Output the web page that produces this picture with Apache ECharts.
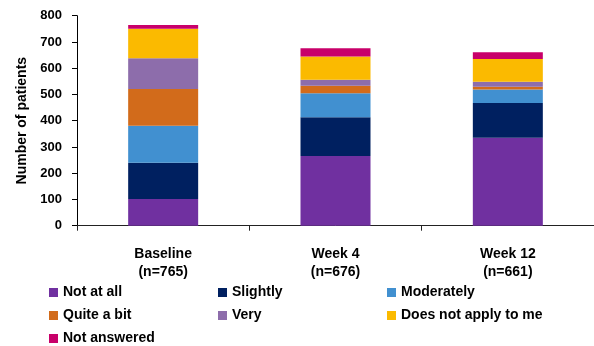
<!DOCTYPE html>
<html>
<head>
<meta charset="utf-8">
<script src="https://cdn.jsdelivr.net/npm/echarts@6/dist/echarts.min.js"></script>
<style>
  html, body { margin: 0; padding: 0; background: #fff; }
  #chart { width: 594px; height: 346px; }
</style>
</head>
<body>
<div id="chart"></div>
<script>
// Visit categories (x axis)
const categories = ['Baseline\n(n=765)', 'Week 4\n(n=676)', 'Week 12\n(n=661)'];

// Patient counts per response level, stacked bottom to top
const notAtAll     = [102, 266, 335];
const slightly     = [138, 147, 132];
const moderately   = [141,  92,  52];
const quiteABit    = [140,  28,  10];
const very         = [117,  23,  19];
const doesNotApply = [112,  89,  87];
const notAnswered  = [ 15,  31,  26];

// Y axis ticks
const yTicks = [0, 100, 200, 300, 400, 500, 600, 700, 800];

const seriesDefs = [
  { name: 'Not at all',            data: notAtAll,     color: '#7030A0' },
  { name: 'Slightly',              data: slightly,     color: '#002060' },
  { name: 'Moderately',            data: moderately,   color: '#4190D0' },
  { name: 'Quite a bit',           data: quiteABit,    color: '#D26B1B' },
  { name: 'Very',                  data: very,         color: '#8D6DAB' },
  { name: 'Does not apply to me',  data: doesNotApply, color: '#FBBA00' },
  { name: 'Not answered',          data: notAnswered,  color: '#C8006A' }
];

const font = '"Liberation Sans", Arial, sans-serif';

const chart = echarts.init(document.getElementById('chart'), null, { renderer: 'canvas' });
chart.setOption({
  animation: false,
  textStyle: { fontFamily: font, color: '#000' },
  grid: { left: 77, right: 0, top: 15.7, bottom: 120.3, containLabel: false },
  legend: {
    left: 44,
    top: 281,
    width: 520,
    icon: 'rect',
    itemWidth: 9,
    itemHeight: 9,
    itemGap: 0,
    padding: [0, 5],
    textStyle: {
      fontFamily: font, fontSize: 14, fontWeight: 'bold', color: '#000',
      width: 155, lineHeight: 23
    },
    data: seriesDefs.map(s => s.name)
  },
  xAxis: {
    type: 'category',
    data: categories,
    axisLine: { lineStyle: { color: '#222', width: 1 } },
    axisTick: { show: true, length: 5, lineStyle: { color: '#222' } },
    axisLabel: {
      fontFamily: font, fontSize: 14, fontWeight: 'bold', color: '#000',
      margin: 19, lineHeight: 18
    }
  },
  yAxis: {
    type: 'value',
    min: yTicks[0],
    max: yTicks[yTicks.length - 1],
    interval: 100,
    name: 'Number of patients',
    nameLocation: 'middle',
    nameRotate: 90,
    nameGap: 47,
    nameTextStyle: { fontFamily: font, fontSize: 14, fontWeight: 'bold', color: '#000' },
    axisLine: { show: true, lineStyle: { color: '#000', width: 1 } },
    axisTick: { show: true, length: 5, lineStyle: { color: '#000' } },
    splitLine: { show: false },
    axisLabel: { fontFamily: font, fontSize: 13, fontWeight: 'bold', color: '#000', margin: 15 }
  },
  series: seriesDefs.map(s => ({
    name: s.name,
    type: 'bar',
    stack: 'total',
    barWidth: 70,
    data: s.data,
    itemStyle: { color: s.color }
  }))
});
</script>
</body>
</html>
